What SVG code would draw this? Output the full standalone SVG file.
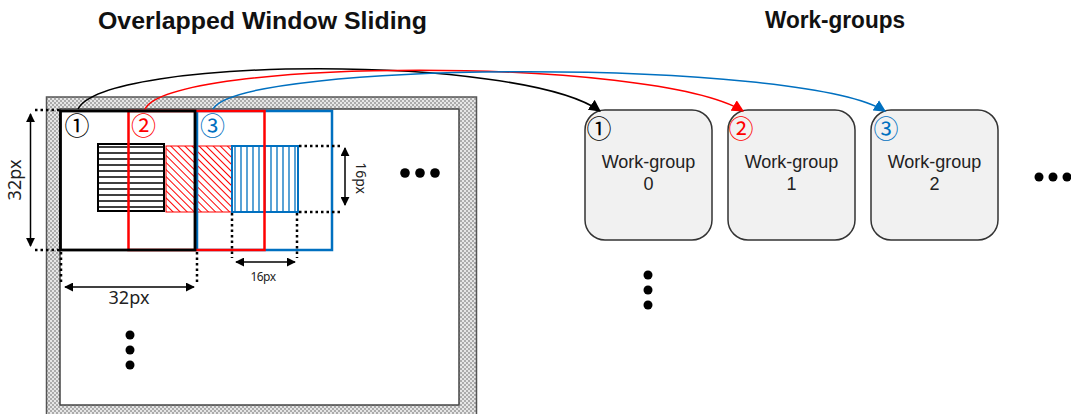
<svg xmlns="http://www.w3.org/2000/svg" width="1071" height="414" viewBox="0 0 1071 414">
<style>
.title{font-family:"Liberation Sans",Arial,sans-serif;font-weight:bold;font-size:23px;fill:#111}
.lbl{font-family:"Noto Sans","Liberation Sans",sans-serif;fill:#222}
.wg{font-family:"Liberation Sans",Arial,sans-serif;font-size:18px;fill:#222;text-anchor:middle}
.cn{font-family:"Noto Sans CJK KR","Noto Sans CJK SC","DejaVu Sans",sans-serif;font-size:25px;text-anchor:middle}
.dot{stroke:#000;stroke-width:2.5;stroke-dasharray:2.5 3;fill:none}
.dim{stroke:#000;stroke-width:1.5;fill:none;marker-start:url(#ah);marker-end:url(#ah)}
.box{fill:#f1f1f1;stroke:#333;stroke-width:1.5}
.arc{fill:none;stroke-width:1.5}
</style>
<defs>
<pattern id="grayhatch" width="4" height="4" patternUnits="userSpaceOnUse">
<rect width="4" height="4" fill="#e6e6e6"/>
<rect width="2" height="2" fill="#ababab"/>
<rect x="2" y="2" width="2" height="2" fill="#ababab"/>
</pattern>
<pattern id="hz" width="6" height="6" patternUnits="userSpaceOnUse" y="144">
<line x1="0" y1="3" x2="6" y2="3" stroke="#000" stroke-width="1.5"/>
</pattern>
<pattern id="dg" width="5" height="5" patternUnits="userSpaceOnUse" patternTransform="rotate(45)">
<line x1="0" y1="2.5" x2="5" y2="2.5" stroke="#ff0000" stroke-width="1"/>
</pattern>
<pattern id="vt" width="6" height="6" patternUnits="userSpaceOnUse" x="232">
<line x1="3" y1="0" x2="3" y2="6" stroke="#0070c0" stroke-width="1.3"/>
</pattern>
<marker id="ah" viewBox="0 0 10 10" refX="9" refY="5" markerWidth="9" markerHeight="9" markerUnits="userSpaceOnUse" orient="auto-start-reverse">
<path d="M0,0 L10,5 L0,10 z" fill="#000"/>
</marker>
<marker id="mk" viewBox="0 0 10 10" refX="9" refY="5" markerWidth="12" markerHeight="12" markerUnits="userSpaceOnUse" orient="auto">
<path d="M0,0 L10,5 L0,10 z" fill="#000"/>
</marker>
<marker id="mr" viewBox="0 0 10 10" refX="9" refY="5" markerWidth="12" markerHeight="12" markerUnits="userSpaceOnUse" orient="auto">
<path d="M0,0 L10,5 L0,10 z" fill="#ff0000"/>
</marker>
<marker id="mb" viewBox="0 0 10 10" refX="9" refY="5" markerWidth="12" markerHeight="12" markerUnits="userSpaceOnUse" orient="auto">
<path d="M0,0 L10,5 L0,10 z" fill="#0070c0"/>
</marker>
</defs>
<rect width="1071" height="414" fill="#fff"/>

<text class="title" x="98" y="29" textLength="329" lengthAdjust="spacingAndGlyphs">Overlapped Window Sliding</text>
<text class="title" x="765" y="28" textLength="140" lengthAdjust="spacingAndGlyphs">Work-groups</text>

<g id="image-frame">
<rect x="46.5" y="97" width="430" height="330" fill="url(#grayhatch)" stroke="#555" stroke-width="1.5"/>
<rect x="60" y="109" width="399" height="296" fill="#fff" stroke="#444" stroke-width="1.5"/>
</g>

<g id="hatches">
<rect x="98" y="144" width="66" height="67" fill="url(#hz)" stroke="#000" stroke-width="2"/>
<rect x="166" y="146" width="66" height="66" fill="url(#dg)" stroke="#ff0000" stroke-width="1"/>
<rect x="232" y="146" width="66" height="66" fill="url(#vt)" stroke="#0070c0" stroke-width="2"/>
</g>

<g id="windows">
<rect id="window-3" x="197" y="111" width="135" height="139" fill="none" stroke="#0070c0" stroke-width="2.5"/>
<rect id="window-2" x="128.5" y="111" width="136" height="139" fill="none" stroke="#ff0000" stroke-width="2.5"/>
<rect id="window-1" x="60.5" y="111" width="134.5" height="139" fill="none" stroke="#000" stroke-width="2.8"/>
<text class="cn" x="77" y="135" fill="#000">①</text>
<text class="cn" x="143.5" y="135" fill="#ff0000">②</text>
<text class="cn" x="212.5" y="135" fill="#0070c0">③</text>
</g>

<g id="dimensions">
<line class="dot" x1="35" y1="110" x2="60" y2="110"/>
<line class="dot" x1="35" y1="250" x2="60" y2="250"/>
<line class="dot" x1="61" y1="252" x2="61" y2="285"/>
<line class="dot" x1="197" y1="252" x2="197" y2="285"/>
<line class="dot" x1="232" y1="213" x2="232" y2="258"/>
<line class="dot" x1="297" y1="213" x2="297" y2="258"/>
<line class="dot" x1="299" y1="146" x2="343" y2="146"/>
<line class="dot" x1="299" y1="212" x2="343" y2="212"/>
<line class="dim" x1="30.5" y1="114" x2="30.5" y2="246"/>
<line class="dim" x1="65" y1="287" x2="194" y2="287"/>
<line class="dim" x1="236" y1="262" x2="295" y2="262"/>
<line class="dim" x1="345" y1="148" x2="345" y2="205"/>
<text class="lbl" font-size="18" text-anchor="middle" transform="translate(21,180) rotate(-90)">32px</text>
<text class="lbl" font-size="18" text-anchor="middle" x="129" y="304">32px</text>
<text class="lbl" font-size="12" text-anchor="middle" x="263" y="281" letter-spacing="-0.5">16px</text>
<text class="lbl" font-size="14" text-anchor="middle" transform="translate(356,178) rotate(90)">16px</text>
</g>

<g id="ellipses" fill="#000">
<circle cx="405" cy="173" r="4.8"/><circle cx="420" cy="173" r="4.8"/><circle cx="435" cy="173" r="4.8"/>
<circle cx="130" cy="335" r="4.5"/><circle cx="130" cy="350" r="4.5"/><circle cx="130" cy="365" r="4.5"/>
<circle cx="648" cy="275" r="4.5"/><circle cx="648" cy="290" r="4.5"/><circle cx="648" cy="305" r="4.5"/>
<circle cx="1039" cy="177" r="4.5"/><circle cx="1053" cy="177" r="4.5"/><circle cx="1067" cy="177" r="4.5"/>
</g>

<g id="wg0">
<rect class="box" x="585" y="110" width="127" height="130" rx="20"/>
<text class="cn" x="599" y="138" fill="#000">①</text>
<text class="wg" x="648.5" y="168">Work-group</text>
<text class="wg" x="648.5" y="189.5">0</text>
</g>
<g id="wg1">
<rect class="box" x="728" y="110" width="127" height="130" rx="20"/>
<text class="cn" x="741" y="138" fill="#ff0000">②</text>
<text class="wg" x="791.5" y="168">Work-group</text>
<text class="wg" x="791.5" y="189.5">1</text>
</g>
<g id="wg2">
<rect class="box" x="871" y="110" width="127" height="130" rx="20"/>
<text class="cn" x="886" y="138" fill="#0070c0">③</text>
<text class="wg" x="934.5" y="168">Work-group</text>
<text class="wg" x="934.5" y="189.5">2</text>
</g>

<g id="connectors">
<path class="arc" stroke="#000" d="M78,109 C105,56 520,54 600,111" marker-end="url(#mk)"/>
<path class="arc" stroke="#ff0000" d="M145,109 C172,58 650,56 743,111" marker-end="url(#mr)"/>
<path class="arc" stroke="#0070c0" d="M213,109 C240,60 800,58 885,111" marker-end="url(#mb)"/>
</g>
</svg>
